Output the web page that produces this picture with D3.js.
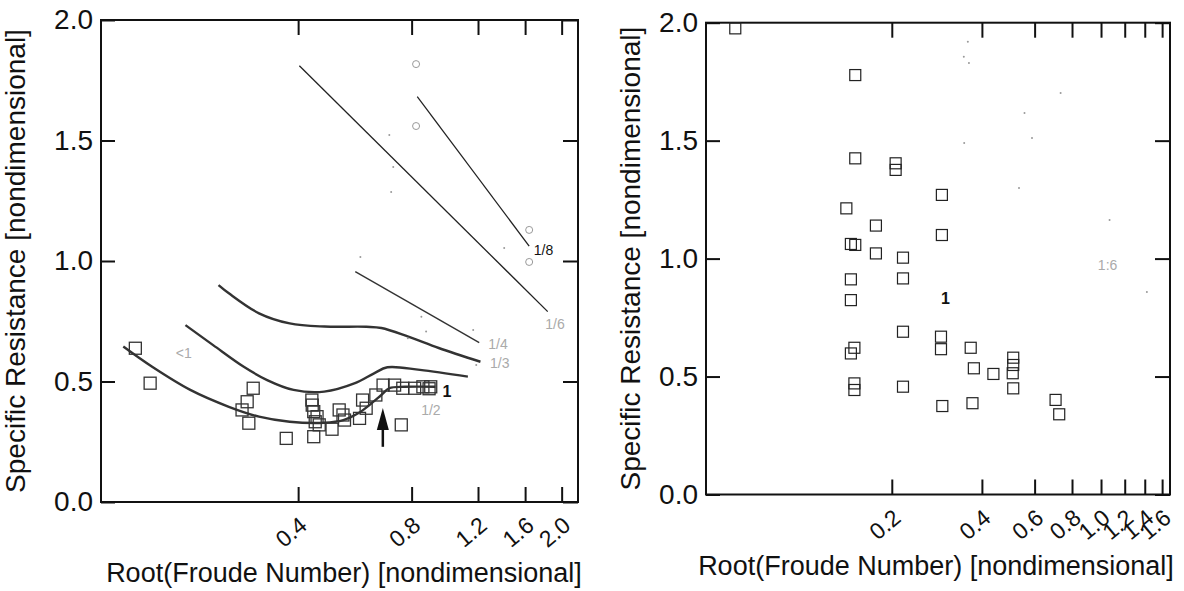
<!DOCTYPE html>
<html>
<head>
<meta charset="utf-8">
<script src="https://cdn.jsdelivr.net/npm/d3@7"></script>
<style>
  body { margin: 0; background: #fff; }
  text { font-family: "Liberation Sans", Arial, Helvetica, sans-serif; }
</style>
</head>
<body>
<svg id="chart" width="1184" height="591"></svg>
<script>
// ---- data ----
var yTicks = [0, 0.5, 1.0, 1.5, 2.0];
var leftXTicks = [0.4, 0.8, 1.2, 1.6, 2.0];
var rightXTicks = [0.2, 0.4, 0.6, 0.8, 1.0, 1.2, 1.4, 1.6];

var xTitle = "Root(Froude Number) [nondimensional]";
var yTitle = "Specific Resistance [nondimensional]";

// left panel: straight fits
var line18 = [[0.828, 1.682], [1.64, 1.062]];
var line16 = [[0.403, 1.81], [1.837, 0.79]];
var line14 = [[0.567, 0.956], [1.209, 0.661]];

// left panel: smooth curves
var curve13 = [[0.246, 0.900], [0.262, 0.866], [0.315, 0.783], [0.380, 0.741], [0.470, 0.728],
  [0.607, 0.727], [0.665, 0.722], [0.784, 0.686], [0.944, 0.639], [1.218, 0.582]];
var curveMid = [[0.201, 0.734], [0.238, 0.651], [0.287, 0.561], [0.331, 0.506], [0.389, 0.465],
  [0.469, 0.458], [0.566, 0.493], [0.636, 0.534], [0.690, 0.559], [0.842, 0.548], [1.128, 0.520]];
var curve1 = [[0.1375, 0.645], [0.164, 0.561], [0.207, 0.465], [0.262, 0.395], [0.315, 0.354],
  [0.380, 0.333], [0.469, 0.329], [0.527, 0.340], [0.577, 0.368], [0.618, 0.402], [0.665, 0.444],
  [0.698, 0.472], [0.767, 0.478], [0.925, 0.478]];

var leftSquares = [[0.148, 0.638], [0.162, 0.493], [0.304, 0.472], [0.293, 0.416], [0.284, 0.382],
  [0.296, 0.327], [0.372, 0.264], [0.435, 0.423], [0.436, 0.402], [0.440, 0.375], [0.449, 0.354],
  [0.444, 0.333], [0.440, 0.271], [0.455, 0.320], [0.492, 0.302], [0.514, 0.382], [0.526, 0.361],
  [0.531, 0.340], [0.582, 0.347], [0.593, 0.423], [0.606, 0.389], [0.643, 0.444], [0.672, 0.485],
  [0.721, 0.485], [0.758, 0.472], [0.815, 0.472], [0.857, 0.478], [0.899, 0.478], [0.890, 0.470],
  [0.751, 0.320]];
var leftCircles = [[0.822, 1.817], [0.822, 1.56], [1.64, 1.129], [1.64, 0.996]];
var leftSpecks = [[0.698, 1.523], [0.715, 1.39], [0.706, 1.286], [1.408, 1.054], [0.585, 1.017],
  [0.849, 0.769], [0.874, 0.707], [0.782, 0.679], [1.165, 0.714], [1.187, 0.568]];
var arrowLeft = { x: 0.671, y0: 0.229, y1: 0.39 };

var leftLabels = [
  { x: 1.79, y: 1.046, t: "1/8", faint: false },
  { x: 1.92, y: 0.74, t: "1/6", faint: true },
  { x: 1.356, y: 0.656, t: "1/4", faint: true },
  { x: 1.37, y: 0.575, t: "1/3", faint: true },
  { x: 0.992, y: 0.458, t: "1", faint: false },
  { x: 0.199, y: 0.618, t: "<1", faint: true },
  { x: 0.90, y: 0.38, t: "1/2", faint: true }
];

// right panel
var rightSquares = [[0.060, 1.976], [0.151, 1.778], [0.151, 1.425], [0.206, 1.404], [0.206, 1.376],
  [0.294, 1.270], [0.294, 1.100], [0.141, 1.213], [0.177, 1.140], [0.177, 1.022], [0.146, 1.062],
  [0.151, 1.058], [0.218, 1.004], [0.218, 0.916], [0.146, 0.912], [0.146, 0.824], [0.218, 0.690],
  [0.292, 0.669], [0.292, 0.616], [0.150, 0.622], [0.146, 0.598], [0.150, 0.471], [0.150, 0.443],
  [0.218, 0.457], [0.295, 0.375], [0.367, 0.622], [0.376, 0.535], [0.372, 0.387], [0.437, 0.511],
  [0.509, 0.580], [0.509, 0.549], [0.507, 0.514], [0.509, 0.450], [0.705, 0.401], [0.725, 0.340]];
var rightSpecks = [[0.359, 1.919], [0.348, 1.856], [0.362, 1.829], [0.733, 1.702], [0.555, 1.617],
  [0.588, 1.511], [0.349, 1.49], [0.532, 1.299], [1.068, 1.164], [1.423, 0.858]];
var rightLabels = [
  { x: 0.302, y: 0.832, t: "1", faint: false },
  { x: 1.052, y: 0.973, t: "1:6", faint: true }
];

// ---- drawing ----
var svg = d3.select("#chart");

function drawPanel(p) {
  var x = d3.scaleLog().domain(p.xDomain).range([p.left, p.right]);
  var y = d3.scaleLinear().domain([0, 2]).range([p.bottom, p.top]);
  var g = svg.append("g");

  // axes with inward ticks
  var yAxis = g.append("g")
    .attr("transform", `translate(${p.left},0)`)
    .call(d3.axisLeft(y).tickValues(yTicks).tickFormat(d3.format(".1f")).tickSize(-14).tickPadding(8));
  yAxis.selectAll("text").attr("font-size", 28).attr("fill", "#111");

  g.append("g")
    .attr("transform", `translate(${p.right},0)`)
    .call(d3.axisRight(y).tickValues(yTicks).tickFormat("").tickSize(-15));
  g.append("g")
    .attr("transform", `translate(0,${p.top})`)
    .call(d3.axisTop(x).tickValues(p.xTicks).tickFormat("").tickSize(-15));
  g.append("g")
    .attr("transform", `translate(0,${p.bottom})`)
    .call(d3.axisBottom(x).tickValues(p.xTicks).tickFormat("").tickSize(-15));

  g.selectAll(".domain").remove();
  g.selectAll(".tick line").attr("stroke", "#111").attr("stroke-width", 2);

  g.append("rect")
    .attr("x", p.left).attr("y", p.top)
    .attr("width", p.right - p.left).attr("height", p.bottom - p.top)
    .attr("fill", "none").attr("stroke", "#111").attr("stroke-width", 2);

  // rotated x tick labels
  g.selectAll("text.xtick")
    .data(p.xTicks)
    .enter()
    .append("text")
    .attr("class", "xtick")
    .attr("transform", d => `translate(${x(d) - 7},${p.bottom + 30}) rotate(-40)`)
    .attr("text-anchor", "middle")
    .attr("dy", "0.35em")
    .attr("font-size", 23)
    .attr("fill", "#111")
    .text(d => d3.format(".1f")(d));

  // axis titles
  g.append("text")
    .attr("x", p.titleX)
    .attr("y", p.bottom + 80)
    .attr("text-anchor", "middle")
    .attr("font-size", 27)
    .attr("fill", "#111")
    .text(xTitle);

  g.append("text")
    .attr("transform", `translate(${p.yTitleX},${(p.top + p.bottom) / 2}) rotate(-90)`)
    .attr("text-anchor", "middle")
    .attr("font-size", 28)
    .attr("fill", "#111")
    .text(yTitle);

  return { g: g, x: x, y: y };
}

// left panel
var L = drawPanel({ left: 101, right: 578, top: 20, bottom: 502, xDomain: [0.12, 2.21],
  xTicks: leftXTicks, titleX: 344, yTitleX: 25 });

var lineL = d3.line().x(d => L.x(d[0])).y(d => L.y(d[1]));
var smoothL = d3.line().x(d => L.x(d[0])).y(d => L.y(d[1])).curve(d3.curveCatmullRom);

[line18, line16].forEach(function(d) {
  L.g.append("path").attr("d", lineL(d)).attr("fill", "none")
    .attr("stroke", "#222").attr("stroke-width", 1.3);
});
L.g.append("path").attr("d", lineL(line14)).attr("fill", "none")
  .attr("stroke", "#333").attr("stroke-width", 1.4);

[curve13, curveMid, curve1].forEach(function(d) {
  L.g.append("path").attr("d", smoothL(d)).attr("fill", "none")
    .attr("stroke", "#333").attr("stroke-width", 2.4);
});

L.g.selectAll("rect.sq")
  .data(leftSquares)
  .enter()
  .append("rect")
  .attr("class", "sq")
  .attr("x", d => L.x(d[0]) - 6)
  .attr("y", d => L.y(d[1]) - 6)
  .attr("width", 12).attr("height", 12)
  .attr("fill", "none").attr("stroke", "#333").attr("stroke-width", 1.3);

L.g.selectAll("circle.ci")
  .data(leftCircles)
  .enter()
  .append("circle")
  .attr("class", "ci")
  .attr("cx", d => L.x(d[0])).attr("cy", d => L.y(d[1]))
  .attr("r", 3.5)
  .attr("fill", "none").attr("stroke", "#999").attr("stroke-width", 1);

L.g.selectAll("circle.sp")
  .data(leftSpecks)
  .enter()
  .append("circle")
  .attr("class", "sp")
  .attr("cx", d => L.x(d[0])).attr("cy", d => L.y(d[1]))
  .attr("r", 1).attr("fill", "#999");

// arrow
var ax = L.x(arrowLeft.x);
L.g.append("line")
  .attr("x1", ax).attr("x2", ax)
  .attr("y1", L.y(arrowLeft.y0)).attr("y2", L.y(arrowLeft.y1) + 12)
  .attr("stroke", "#111").attr("stroke-width", 2.5);
L.g.append("path")
  .attr("d", `M${ax},${L.y(arrowLeft.y1)} L${ax - 6},${L.y(arrowLeft.y1) + 22} L${ax + 6},${L.y(arrowLeft.y1) + 22} Z`)
  .attr("fill", "#111");

L.g.selectAll("text.lab")
  .data(leftLabels)
  .enter()
  .append("text")
  .attr("class", "lab")
  .attr("x", d => L.x(d.x)).attr("y", d => L.y(d.y))
  .attr("dy", "0.35em")
  .attr("text-anchor", "middle")
  .attr("font-size", d => d.t === "1" ? 16 : 14)
  .attr("font-weight", d => d.t === "1" ? "bold" : "normal")
  .attr("fill", d => d.faint ? "#aaa" : "#111")
  .text(d => d.t);

// right panel
var R = drawPanel({ left: 706, right: 1170, top: 22.7, bottom: 494.5, xDomain: [0.0479, 1.70],
  xTicks: rightXTicks, titleX: 936, yTitleX: 640 });

R.g.selectAll("rect.sq")
  .data(rightSquares)
  .enter()
  .append("rect")
  .attr("class", "sq")
  .attr("x", d => R.x(d[0]) - 5.5)
  .attr("y", d => R.y(d[1]) - 5.5)
  .attr("width", 11).attr("height", 11)
  .attr("fill", "none").attr("stroke", "#222").attr("stroke-width", 1.2);

R.g.selectAll("circle.sp")
  .data(rightSpecks)
  .enter()
  .append("circle")
  .attr("class", "sp")
  .attr("cx", d => R.x(d[0])).attr("cy", d => R.y(d[1]))
  .attr("r", 1).attr("fill", "#999");

R.g.selectAll("text.lab")
  .data(rightLabels)
  .enter()
  .append("text")
  .attr("class", "lab")
  .attr("x", d => R.x(d.x)).attr("y", d => R.y(d.y))
  .attr("dy", "0.35em")
  .attr("text-anchor", "middle")
  .attr("font-size", d => d.faint ? 14 : 16)
  .attr("font-weight", d => d.faint ? "normal" : "bold")
  .attr("fill", d => d.faint ? "#aaa" : "#111")
  .text(d => d.t);
</script>
</body>
</html>
